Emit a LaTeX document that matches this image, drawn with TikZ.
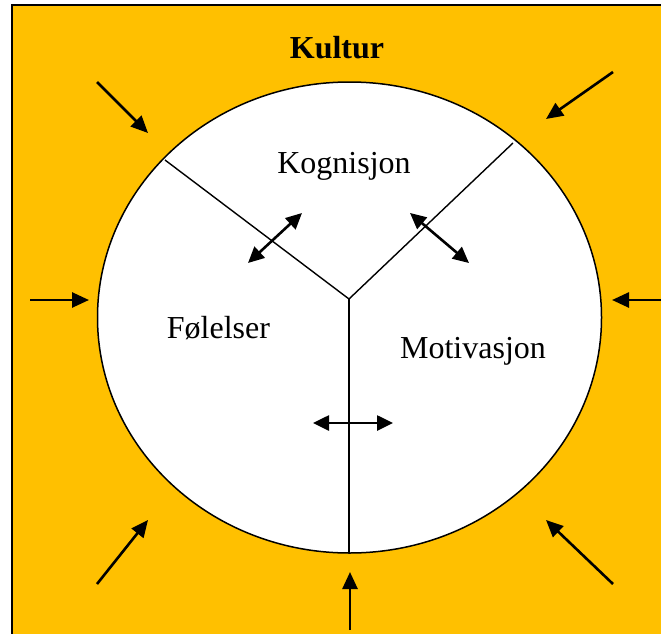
\documentclass[tikz,border=0pt]{standalone}
\usepackage{fontspec}
\setmainfont{Liberation Serif}
\usetikzlibrary{arrows.meta,shapes.geometric}
\definecolor{kulturgold}{HTML}{FFC000}
\tikzset{
  label text/.style={font=\fontsize{32}{37}\selectfont, inner sep=0pt, anchor=base},
  inflow/.style={line width=2.6pt, -{Triangle[length=17pt,width=15pt]}},
  exchange/.style={line width=2.6pt, {Triangle[length=16pt,width=15pt]}-{Triangle[length=16pt,width=15pt]}},
  divider/.style={line width=1.4pt},
}
\begin{document}
\begin{tikzpicture}[x=1pt,y=-1pt]
  \useasboundingbox (0,0) rectangle (661,634);
  % culture background
  \fill[kulturgold] (12,5) rectangle (661,634);
  \draw[line width=2.5pt] (12,634) -- (12,5) -- (661,5);

  % the inner sphere
  \node[ellipse, draw, line width=1.5pt, fill=white, inner sep=0pt,
        minimum width=504pt, minimum height=471pt] (psyche) at (349.5,317.5) {};

  % dividing lines
  \coordinate (mid) at (349,299);
  \coordinate (rimL) at (165,160);
  \coordinate (rimR) at (513,143);
  \coordinate (rimB) at (349,553);
  \draw[divider] (rimL) -- (mid) -- (rimR);
  \draw[divider] (mid) -- (rimB);

  % labels
  \node[label text] (kultur) at (337,59) {\textbf{Kultur}};
  \node[label text] (kog) at (344,173) {Kognisjon};
  \node[label text] (fol) at (218.5,338) {Følelser};
  \node[label text] (mot) at (473,358) {Motivasjon};

  % interaction between the parts
  \coordinate (xa1) at (248,263); \coordinate (xa2) at (302,213);
  \coordinate (xb1) at (410,213); \coordinate (xb2) at (469,263);
  \coordinate (xc1) at (313,423); \coordinate (xc2) at (393,423);
  \draw[exchange] (xa1) -- (xa2);
  \draw[exchange] (xb1) -- (xb2);
  \draw[exchange] (xc1) -- (xc2);

  % influence of culture from outside
  \coordinate (s1) at (97,82);   \coordinate (t1) at (148,133);
  \coordinate (s2) at (613,72);  \coordinate (t2) at (546,119);
  \coordinate (s3) at (30,300);  \coordinate (t3) at (89,300);
  \coordinate (s4) at (661,300); \coordinate (t4) at (612,300);
  \coordinate (s5) at (97,584);  \coordinate (t5) at (148,520);
  \coordinate (s6) at (613,584); \coordinate (t6) at (546,520);
  \coordinate (s7) at (350,630); \coordinate (t7) at (350,572);
  \foreach \i in {1,...,7} {
    \draw[inflow] (s\i) -- (t\i);
  }
\end{tikzpicture}
\end{document}
